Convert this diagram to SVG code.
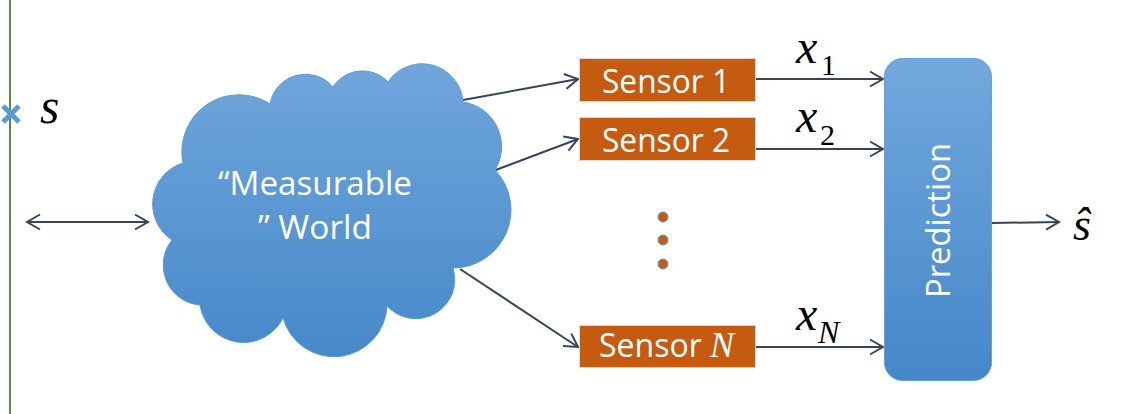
<svg xmlns="http://www.w3.org/2000/svg" width="1125" height="414" viewBox="0 0 1125 414">
<style>
.conn{fill:none;stroke:#364559;stroke-width:2}
.sensor{fill:#c55a11;stroke:#d9d9d9;stroke-width:1}
.lbl{font-family:'Open Sans','Liberation Sans',sans-serif;fill:#ffffff;font-size:32px}
.math{font-family:'Liberation Serif','DejaVu Serif',serif;font-style:italic;fill:#000000}
.mathn{font-family:'Liberation Serif','DejaVu Serif',serif;font-style:normal;fill:#000000}
.dot{fill:#c55a11;stroke:#5b9bd5;stroke-width:1}
</style>
<defs>
<linearGradient id="gCloud" x1="0" y1="0" x2="0" y2="1">
<stop offset="0" stop-color="#70a6dc"/>
<stop offset="1" stop-color="#4689c9"/>
</linearGradient>
<linearGradient id="gPred" x1="0" y1="0" x2="0" y2="1">
<stop offset="0" stop-color="#72a8dd"/>
<stop offset="1" stop-color="#4587c8"/>
</linearGradient>
<marker id="arr" viewBox="-15 -10 17 20" refX="0" refY="0" markerWidth="17" markerHeight="20" markerUnits="userSpaceOnUse" orient="auto-start-reverse">
<path d="M-13,-7.5 L0,0 L-13,7.5" fill="none" stroke="#364559" stroke-width="2"/>
</marker>
</defs>
<rect width="1125" height="414" fill="#ffffff"/>

<g id="axis">
<line x1="10" y1="0" x2="10" y2="414" stroke="#5a8a38" stroke-width="2"/>
<path d="M3,106 L19,122 M19,106 L3,122" stroke="#5b9bd5" stroke-width="5" stroke-linecap="butt"/>
<text class="math" x="40" y="123" font-size="50">s</text>
</g>

<g id="connectors">
<line class="conn" x1="27" y1="222" x2="148" y2="222" marker-start="url(#arr)" marker-end="url(#arr)"/>
<line class="conn" x1="463" y1="100" x2="578" y2="79" marker-end="url(#arr)"/>
<line class="conn" x1="493" y1="171" x2="578" y2="139" marker-end="url(#arr)"/>
<line class="conn" x1="460" y1="269" x2="578" y2="347" marker-end="url(#arr)"/>
<line class="conn" x1="756" y1="79" x2="883" y2="79" marker-end="url(#arr)"/>
<line class="conn" x1="756" y1="149" x2="883" y2="149" marker-end="url(#arr)"/>
<line class="conn" x1="756" y1="347" x2="883" y2="347" marker-end="url(#arr)"/>
<line class="conn" x1="992" y1="223" x2="1059" y2="222" marker-end="url(#arr)"/>
</g>

<g id="world">
<path d="M172,240 A43,43 0 0 1 183,163 A57,57 0 0 1 270,104 A36,36 0 0 1 333,87 A35,35 0 0 1 388,82 A41,41 0 0 1 463,102 A45,45 0 0 1 495,170 A58,58 0 0 1 453,268 A39,39 0 0 1 387,306 A53,53 0 0 1 283,318 A44,44 0 0 1 200,305 A40,40 0 0 1 172,240 Z" fill="url(#gCloud)" stroke="#5b9bd5" stroke-width="1"/>
<text class="lbl" x="218" y="195" textLength="194" lengthAdjust="spacingAndGlyphs">“Measurable</text>
<text class="lbl" x="258" y="239" textLength="114" lengthAdjust="spacingAndGlyphs">” World</text>
</g>

<g id="sensor1">
<rect class="sensor" x="579.5" y="58.5" width="176" height="43"/>
<text class="lbl" x="602" y="93" textLength="128" lengthAdjust="spacingAndGlyphs">Sensor 1</text>
</g>
<g id="sensor2">
<rect class="sensor" x="579.5" y="117.5" width="176" height="43"/>
<text class="lbl" x="602" y="152" textLength="128" lengthAdjust="spacingAndGlyphs">Sensor 2</text>
</g>
<g id="ellipsis">
<circle class="dot" cx="663" cy="217" r="5"/>
<circle class="dot" cx="663" cy="240" r="5"/>
<circle class="dot" cx="663" cy="264" r="5"/>
</g>
<g id="sensorN">
<rect class="sensor" x="579.5" y="325.5" width="176" height="42"/>
<text class="lbl" x="599" y="357">Sensor <tspan style="font-family:'Liberation Serif',serif;font-style:italic;font-size:36px">N</tspan></text>
</g>

<g id="labels">
<text class="math" x="796" y="63" font-size="48">x</text>
<text class="mathn" x="821" y="75" font-size="30">1</text>
<text class="math" x="796" y="132" font-size="48">x</text>
<text class="mathn" x="820" y="145" font-size="30">2</text>
<text class="math" x="796" y="330" font-size="48">x</text>
<text class="math" x="818" y="343" font-size="32">N</text>
</g>

<g id="prediction">
<rect x="884.5" y="58.5" width="107" height="322" rx="18" ry="18" fill="url(#gPred)" stroke="#6a9fd6" stroke-width="1"/>
<text class="lbl" transform="translate(950,298) rotate(-90)" x="0" y="0" textLength="155" lengthAdjust="spacingAndGlyphs">Prediction</text>
</g>

<g id="output">
<text class="math" x="1073" y="240" font-size="46">ŝ</text>
</g>
</svg>
